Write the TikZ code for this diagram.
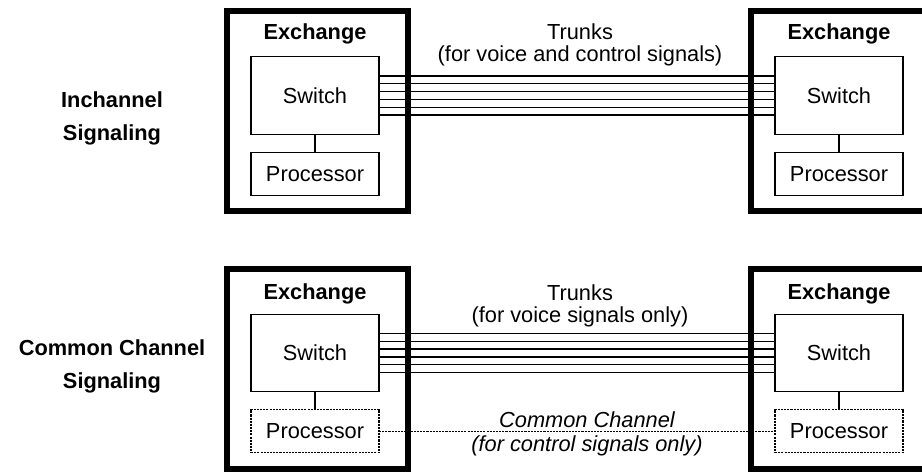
\documentclass[tikz,border=0pt]{standalone}
\usepackage{fontspec}
\setmainfont{Liberation Sans}
\usetikzlibrary{positioning}
\newcommand{\boxfont}{\fontsize{12.4}{14}\selectfont}
\newcommand{\sidefont}{\fontsize{12.4}{18.8}\selectfont}
\newcommand{\trunkfont}{\fontsize{12.4}{12.6}\selectfont}
\tikzset{
  exchbox/.style={draw,line width=3.4pt,minimum width=3.62cm,minimum height=4cm,inner sep=0pt,outer sep=0pt},
  switchbox/.style={draw,line width=0.75pt,minimum width=2.56cm,minimum height=1.55cm,inner sep=0pt,outer sep=0pt,font=\boxfont},
  procbox/.style={switchbox,minimum height=0.86cm},
  dashbox/.style={procbox,dash pattern=on 1.2pt off 0.6pt},
  titletext/.style={font=\boxfont\bfseries,anchor=base,inner sep=0pt},
  sidetext/.style={font=\sidefont\bfseries,align=center,inner sep=0pt},
  trunktext/.style={font=\trunkfont,align=center,inner sep=0pt},
  cctext/.style={font=\boxfont\itshape,inner sep=0pt},
  link/.style={draw,line width=0.75pt},
  trunk/.style={draw,line width=0.75pt},
  ccline/.style={draw,line width=0.75pt,dash pattern=on 1.2pt off 0.6pt}
}

\begin{document}
\begin{tikzpicture}[x=0.02cm,y=-0.02cm,node distance=0.36cm]
  \useasboundingbox (0,0) rectangle (922,472);
  \clip (0,0) rectangle (922,472);
  % inchannel signaling
  \node[sidetext] (sideA) at (112,118) {Inchannel\\Signaling};
  \node[exchbox] (exA) at (317.5,111) {};
  \node[exchbox] (exB) at (841.5,111) {};
  \node[titletext] (ttA) at (315,40) {Exchange};
  \node[titletext] (ttB) at (839,40) {Exchange};
  \node[switchbox] (swA) at (315,95.5) {Switch};
  \node[switchbox] (swB) at (839,95.5) {Switch};
  \node[procbox,below=of swA] (prA) {Processor};
  \node[procbox,below=of swB] (prB) {Processor};
  \draw[link] (swA) -- (prA);
  \draw[link] (swB) -- (prB);
  \foreach \k in {-2.5,-1.5,...,2.5}
    \draw[trunk] ([yshift=\k*0.156cm]swA.east) -- ([yshift=\k*0.156cm]swB.west);
  \node[trunktext] (trkA) at (580,45.3) {Trunks\\(for voice and control signals)};
  % common channel signaling
  \node[sidetext] (sideB) at (112,366) {Common Channel\\Signaling};
  \node[exchbox] (exC) at (317.5,369) {};
  \node[exchbox] (exD) at (841.5,369) {};
  \node[titletext] (ttC) at (315,300) {Exchange};
  \node[titletext] (ttD) at (839,300) {Exchange};
  \node[switchbox] (swC) at (315,353) {Switch};
  \node[switchbox] (swD) at (839,353) {Switch};
  \node[dashbox,below=of swC] (prC) {Processor};
  \node[dashbox,below=of swD] (prD) {Processor};
  \draw[link] (swC) -- (prC);
  \draw[link] (swD) -- (prD);
  \foreach \k in {-2.5,-1.5,...,2.5}
    \draw[trunk] ([yshift=\k*0.156cm]swC.east) -- ([yshift=\k*0.156cm]swD.west);
  \node[trunktext] (trkB) at (580,306) {Trunks\\(for voice signals only)};
  \draw[ccline] (prC) -- node[cctext,above=0.06cm,xshift=0.2cm] (ccA) {Common Channel}
    node[cctext,below=0.08cm,xshift=0.2cm] (ccB) {(for control signals only)} (prD);
\end{tikzpicture}
\end{document}
